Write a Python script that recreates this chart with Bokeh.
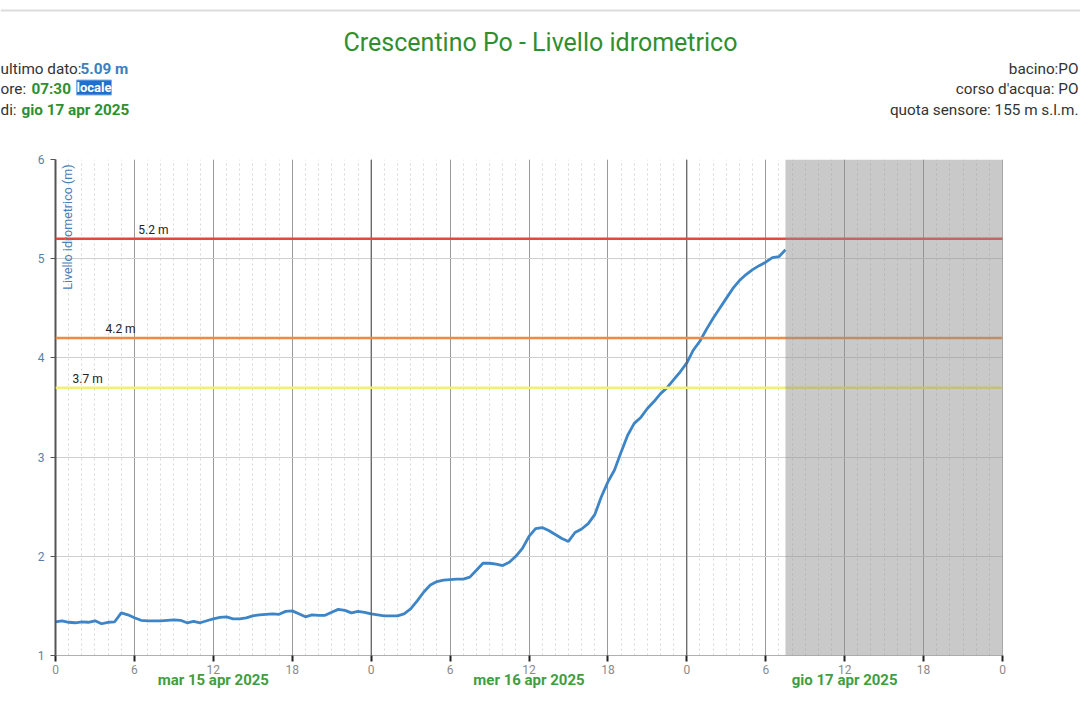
import pandas as pd
from bokeh.plotting import figure
from bokeh.layouts import column
from bokeh.models import (Range1d, FixedTicker, CustomJSTickFormatter, Span, Label,
                          BoxAnnotation, DatetimeAxis)
from bokeh.embed import file_html
from bokeh.resources import INLINE

# ---------------- data ----------------
titolo = "Crescentino Po - Livello idrometrico"
inizio = "2025-04-15 00:00"
fine = "2025-04-18 00:00"
passo = "30min"
# livello idrometrico (m), un valore ogni 30 minuti dal 15/04 00:00 al 17/04 07:30
livello = [
    1.34, 1.35, 1.335, 1.33, 1.34, 1.335, 1.35, 1.32, 1.335, 1.34, 1.43, 1.41,
    1.38, 1.355, 1.35, 1.35, 1.35, 1.355, 1.36, 1.355, 1.33, 1.345, 1.33, 1.35,
    1.37, 1.385, 1.39, 1.37, 1.37, 1.38, 1.40, 1.41, 1.415, 1.42, 1.415, 1.445,
    1.45, 1.42, 1.39, 1.41, 1.405, 1.405, 1.435, 1.465, 1.455, 1.43, 1.445, 1.435,
    1.42, 1.41, 1.40, 1.40, 1.40, 1.42, 1.47, 1.55, 1.64, 1.71, 1.745, 1.76,
    1.765, 1.77, 1.77, 1.79, 1.86, 1.93, 1.93, 1.92, 1.907, 1.94, 2.00, 2.08,
    2.20, 2.28, 2.29, 2.26, 2.22, 2.18, 2.15, 2.24, 2.275, 2.33, 2.42, 2.60,
    2.75, 2.87, 3.05, 3.22, 3.34, 3.40, 3.49, 3.56, 3.64, 3.70, 3.78, 3.86,
    3.95, 4.08, 4.17, 4.29, 4.40, 4.50, 4.60, 4.70, 4.78, 4.84, 4.89, 4.93,
    4.965, 5.01, 5.02, 5.09,
]
soglie = [5.2, 4.2, 3.7]
soglie_label = ["5.2 m", "4.2 m", "3.7 m"]
soglie_colori = ["#e8453c", "#ef8a45", "#f3ee74"]
giorni_label = ["mar 15 apr 2025", "mer 16 apr 2025", "gio 17 apr 2025"]
y_ticks = [1, 2, 3, 4, 5, 6]
info_sx = [("ultimo dato:", "5.09 m"), ("ore: ", "07:30"), ("di: ", "gio 17 apr 2025")]
info_dx = ["bacino:PO", "corso d'acqua: PO", "quota sensore: 155 m s.l.m."]

# ---------------- build ----------------
tempi = pd.date_range(inizio, periods=len(livello), freq=passo)
t0 = pd.Timestamp(inizio)
t1 = pd.Timestamp(fine)
ms = lambda t: int(t.value // 10**6)
major = [ms(t) for t in pd.date_range(t0, t1, freq="6h")]
minor = [ms(t) for t in pd.date_range(t0, t1, freq="1h")]
mezzanotti = [ms(t) for t in pd.date_range(t0, t1, freq="1D")]
mezzogiorni = [ms(t0 + pd.Timedelta(hours=24 * i + 12)) for i in range(len(giorni_label))]

FONT = "Roboto"
W, H = 1080, 726
HH = 150            # header height
FL, FT, FB = 55, 159, 655   # frame left / top / bottom in page px

# ---------- header ----------
h = figure(width=W, height=HH, x_range=Range1d(0, W), y_range=Range1d(HH, 0),
           output_backend="svg", toolbar_location=None,
           x_axis_location=None, y_axis_location=None,
           min_border=0, min_border_left=0, min_border_right=0,
           min_border_top=0, min_border_bottom=0)
h.frame_align = False
h.grid.visible = False
h.outline_line_color = None
h.add_layout(Span(location=10, dimension="width", line_color="#dcdcdc", line_width=2))
h.add_layout(Label(x=540, y=42, text=titolo, text_align="center", text_baseline="middle",
                   text_font=FONT, text_font_size="25px", text_color="#2f8f2f"))
rows_y = [68, 88, 109]
val_x = [80, 31, 21]
val_col = ["#3a7fc0", "#2f8f2f", "#2f8f2f"]
for (k, v), yy, vx, vc in zip(info_sx, rows_y, val_x, val_col):
    h.add_layout(Label(x=0, y=yy, text=k, text_align="left", text_baseline="middle",
                       text_font=FONT, text_font_size="15.3px", text_color="#333333"))
    h.add_layout(Label(x=vx, y=yy, text=v, text_align="left", text_baseline="middle",
                       text_font=FONT, text_font_size="15.3px", text_font_style="bold",
                       text_color=vc))
h.add_layout(Label(x=76, y=87, text="locale", text_align="left", text_baseline="middle",
                   text_font=FONT, text_font_size="13px", text_font_style="bold",
                   text_color="white", background_fill_color="#1f6fd0",
                   border_line_color="#7fb0e8"))
for t, yy in zip(info_dx, rows_y):
    h.add_layout(Label(x=1078, y=yy, text=t, text_align="right", text_baseline="middle",
                       text_font=FONT, text_font_size="15.3px", text_color="#333333"))

# ---------- chart ----------
p = figure(width=W, height=H - HH, x_axis_type="datetime",
           x_range=Range1d(t0, t1), y_range=Range1d(1, 6),
           output_backend="svg", toolbar_location=None,
           min_border_left=FL, min_border_right=W - 1002,
           min_border_top=FT - HH, min_border_bottom=H - FB)
p.frame_align = False
p.outline_line_color = None

p.xgrid.ticker = FixedTicker(ticks=major, minor_ticks=minor)
p.xgrid.grid_line_color = "#9a9a9a"
p.xgrid.grid_line_width = 1
p.xgrid.minor_grid_line_color = "#d8d8d8"
p.xgrid.minor_grid_line_dash = "2 3"
p.ygrid.ticker = FixedTicker(ticks=y_ticks)
p.ygrid.grid_line_color = "#cfcfcf"

xa = p.xaxis[0]
xa.ticker = FixedTicker(ticks=major)
xa.formatter = CustomJSTickFormatter(code="return String(new Date(tick).getUTCHours());")
xa.axis_line_color = "#b0b0b0"
xa.major_tick_line_color = "#222222"
xa.major_tick_line_width = 2
xa.major_tick_in = 0
xa.major_tick_out = 6
xa.minor_tick_line_color = None
xa.major_label_text_color = "#8a8a8a"
xa.major_label_text_font = FONT
xa.major_label_text_font_size = "12px"
xa.major_label_standoff = 3

xd = DatetimeAxis(ticker=FixedTicker(ticks=mezzogiorni),
                  formatter=CustomJSTickFormatter(
                      args=dict(labels=giorni_label, t0=ms(t0)),
                      code="return labels[Math.floor((tick - t0) / 86400000)];"))
xd.axis_line_color = None
xd.major_tick_line_color = None
xd.minor_tick_line_color = None
xd.major_tick_in = 0
xd.major_tick_out = 0
xd.major_label_standoff = -6
xd.major_label_text_font = FONT
xd.major_label_text_font_size = "15px"
xd.major_label_text_font_style = "bold"
xd.major_label_text_color = "#3f9e3f"
p.add_layout(xd, "below")

ya = p.yaxis[0]
ya.ticker = FixedTicker(ticks=y_ticks)
ya.axis_line_color = "#555555"
ya.axis_line_width = 2
ya.major_tick_line_color = "#555555"
ya.major_tick_in = 0
ya.major_tick_out = 5
ya.minor_tick_line_color = None
ya.major_label_text_color = "#5a7fa6"
ya.major_label_text_font = FONT
ya.major_label_text_font_size = "12px"
ya.major_label_standoff = 6

for m in mezzanotti:
    p.add_layout(Span(location=m, dimension="height", line_color="#555555", line_width=1))

off_h = [6.3, 3.8, 1.3]
for s, lab, col, oh in zip(soglie, soglie_label, soglie_colori, off_h):
    p.add_layout(Span(location=s, dimension="width", line_color=col, line_width=2.5))
    p.add_layout(Label(x=ms(t0 + pd.Timedelta(hours=oh)), y=s, y_offset=2, text=lab,
                       text_font=FONT, text_font_size="12px", text_color="#222222",
                       text_baseline="bottom", text_align="left"))

p.line(tempi, livello, line_color="#3d85c6", line_width=2.8)

p.add_layout(BoxAnnotation(left=ms(tempi[-1]), right=ms(t1), fill_color="#8f8f8f",
                           fill_alpha=0.48, line_color=None))

p.add_layout(Label(x=67 - FL, y=FB - FT - 5, x_units="screen", y_units="screen",
                   text="Livello idrometrico (m)", angle=1.5708, text_align="right",
                   text_baseline="middle", text_font=FONT, text_font_size="12.5px",
                   text_color="#4a80b8"))

layout = column(h, p, spacing=0)
open("out.html", "w").write(file_html(layout, INLINE))
